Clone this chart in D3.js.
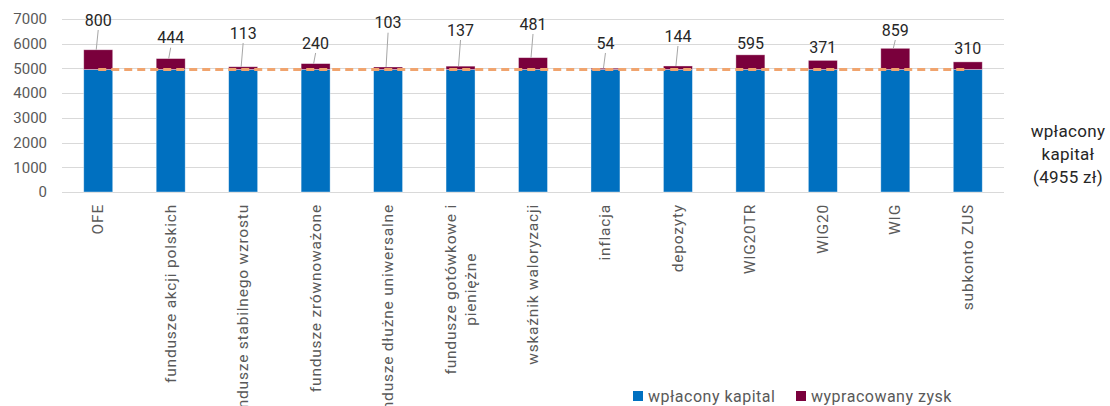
<!DOCTYPE html>
<html>
<head>
<meta charset="utf-8">
<script src="https://cdn.jsdelivr.net/npm/d3@7"></script>
<style>
  body { margin: 0; background: #fff; }
  svg { display: block; font-family: Roboto, "Noto Sans", sans-serif; }
</style>
</head>
<body>
<script>
// categories (multi-line labels split with |)
var categories = ["OFE", "fundusze akcji polskich", "fundusze stabilnego wzrostu",
    "fundusze zrównoważone", "fundusze dłużne uniwersalne", "fundusze gotówkowe i|pieniężne",
    "wskaźnik waloryzacji", "inflacja", "depozyty", "WIG20TR", "WIG20", "WIG", "subkonto ZUS"];
var kapital = [4955, 4955, 4955, 4955, 4955, 4955, 4955, 4955, 4955, 4955, 4955, 4955, 4955];
var zysk = [800, 444, 113, 240, 103, 137, 481, 54, 144, 595, 371, 859, 310];
// where the value label sits (in axis units)
var labelAt = [6960, 6243, 6434, 6029, 6850, 6555, 6798, 6029, 6312, 6029, 5839, 6555, 5815];
var yTicks = [0, 1000, 2000, 3000, 4000, 5000, 6000, 7000];
var seriesNames = ["wpłacony kapital", "wypracowany zysk"];
var baseLine = 4955;

var width = 1110, height = 406;
var blue = "#0070c0", maroon = "#7a003c", orange = "#f0a46e";

var svg = d3.select("body").append("svg")
    .attr("width", width)
    .attr("height", height);

var x = d3.scaleBand()
    .domain(d3.range(categories.length))
    .range([62, 1004])
    .paddingInner(0.6)
    .paddingOuter(0.3);

var y = d3.scaleLinear()
    .domain([0, 7000])
    .range([192, 19]);

// grid
svg.append("g")
    .selectAll("line")
    .data(yTicks)
    .join("line")
    .attr("x1", 62).attr("x2", 1004)
    .attr("y1", d => Math.round(y(d)) + 0.5)
    .attr("y2", d => Math.round(y(d)) + 0.5)
    .attr("stroke", "#d9d9d9")
    .attr("stroke-width", 1);

// y labels
svg.append("g")
    .selectAll("text")
    .data(yTicks)
    .join("text")
    .attr("x", 47)
    .attr("y", d => y(d))
    .attr("dy", "0.35em")
    .attr("text-anchor", "end")
    .attr("fill", "#595959")
    .style("font-size", "15px")
    .text(d => d);

// bars
var bars = svg.append("g");
bars.selectAll("rect.k")
    .data(kapital)
    .join("rect")
    .attr("class", "k")
    .attr("x", (d, i) => x(i))
    .attr("width", x.bandwidth())
    .attr("y", d => y(d))
    .attr("height", d => y(0) - y(d))
    .attr("fill", blue)
    .attr("stroke", "rgba(255,255,255,0.5)")
    .attr("stroke-width", 0.75);

bars.selectAll("rect.z")
    .data(zysk)
    .join("rect")
    .attr("class", "z")
    .attr("x", (d, i) => x(i))
    .attr("width", x.bandwidth())
    .attr("y", (d, i) => y(kapital[i] + d))
    .attr("height", (d, i) => y(kapital[i]) - y(kapital[i] + d))
    .attr("fill", maroon)
    .attr("stroke", "rgba(255,255,255,0.5)")
    .attr("stroke-width", 0.75);

// dashed base line
svg.append("line")
    .attr("x1", x(0) + x.bandwidth() / 2)
    .attr("x2", x(categories.length - 1) + x.bandwidth() / 2)
    .attr("y1", y(baseLine))
    .attr("y2", y(baseLine))
    .attr("stroke", orange)
    .attr("stroke-width", 3)
    .attr("stroke-dasharray", "8,5");

// value labels with leader lines
var lab = svg.append("g");
zysk.forEach((d, i) => {
    var cx = x(i) + x.bandwidth() / 2;
    var ly = y(labelAt[i]);
    var top = y(kapital[i] + d);
    if (top - (ly + 10) > 6) {
        lab.append("line")
            .attr("x1", cx).attr("x2", cx - 2)
            .attr("y1", ly + 10).attr("y2", top)
            .attr("stroke", "#a6a6a6")
            .attr("stroke-width", 1);
    }
    lab.append("text")
        .attr("x", cx)
        .attr("y", ly)
        .attr("dy", "0.35em")
        .attr("text-anchor", "middle")
        .attr("fill", "#262626")
        .style("font-size", "16px")
        .text(d);
});

// x labels, rotated
var xl = svg.append("g");
categories.forEach((c, i) => {
    var lines = c.split("|");
    var cx = x(i) + x.bandwidth() / 2;
    var g = xl.append("g");
    var texts = lines.map(t => g.append("text")
        .attr("fill", "#595959")
        .style("font-size", "15.5px")
        .style("letter-spacing", "0.8px")
        .attr("text-anchor", "middle")
        .text(t));
    var maxW = d3.max(texts, t => t.node().getComputedTextLength());
    var mid = 204 + maxW / 2;
    var lh = 20;
    texts.forEach((t, k) => {
        var off = (k - (lines.length - 1) / 2) * lh;
        t.attr("transform", `translate(${cx + off + 5},${mid}) rotate(-90)`);
    });
});

// right-hand note
var note = ["wpłacony", "kapitał", "(4955 zł)"];
svg.append("g")
    .selectAll("text")
    .data(note)
    .join("text")
    .attr("x", 1068)
    .attr("y", (d, i) => 131 + i * 23)
    .attr("dy", "0.35em")
    .attr("text-anchor", "middle")
    .attr("fill", "#262626")
    .style("font-size", "17px")
    .style("letter-spacing", "0.3px")
    .text(d => d);

// legend
var legX = [633, 796];
var leg = svg.append("g");
seriesNames.forEach((s, i) => {
    leg.append("rect")
        .attr("x", legX[i]).attr("y", 391)
        .attr("width", 10).attr("height", 10)
        .attr("fill", i === 0 ? blue : maroon);
    leg.append("text")
        .attr("x", legX[i] + 15)
        .attr("y", 396)
        .attr("dy", "0.35em")
        .attr("fill", "#595959")
        .style("font-size", "16px")
        .style("letter-spacing", "0.5px")
        .text(s);
});
</script>
</body>
</html>
